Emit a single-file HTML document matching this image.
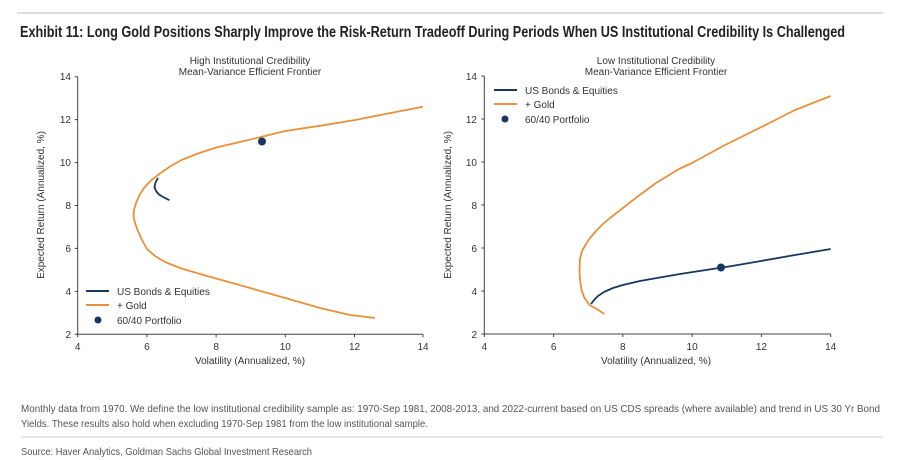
<!DOCTYPE html>
<html><head><meta charset="utf-8"><style>
html,body{margin:0;padding:0;background:#fff;}
svg{display:block;}
.n{font-family:"Liberation Sans Narrow","Liberation Sans",sans-serif;}
.s{font-family:"Liberation Sans",sans-serif;}
</style></head><body>
<svg width="900" height="460" viewBox="0 0 900 460" xmlns="http://www.w3.org/2000/svg">
<line x1="17" y1="13" x2="883" y2="13" stroke="#bbb" stroke-width="1"/>
<text class="n" x="20" y="37" font-size="16" font-weight="bold" fill="#222" textLength="825" lengthAdjust="spacingAndGlyphs">Exhibit 11: Long Gold Positions Sharply Improve the Risk-Return Tradeoff During Periods When US Institutional Credibility Is Challenged</text>

<!-- Left chart -->
<g class="s" font-size="10" fill="#333">
<text x="250" y="64" text-anchor="middle">High Institutional Credibility</text>
<text x="250" y="75" text-anchor="middle">Mean-Variance Efficient Frontier</text>
</g>
<g stroke="#444" stroke-width="1" fill="none">
<path d="M77.7,76.7 V334.3 H423"/>
<path d="M77.7,76.7 h-3 M77.7,119.6 h-3 M77.7,162.6 h-3 M77.7,205.5 h-3 M77.7,248.4 h-3 M77.7,291.4 h-3 M77.7,334.3 h-3"/>
<path d="M77.7,334.3 v3 M146.9,334.3 v3 M216.1,334.3 v3 M285.3,334.3 v3 M354.5,334.3 v3 M423,334.3 v3"/>
</g>
<g class="s" font-size="10" fill="#333" text-anchor="end">
<text x="71" y="80">14</text><text x="71" y="123">12</text><text x="71" y="166">10</text>
<text x="71" y="209">8</text><text x="71" y="252">6</text><text x="71" y="295">4</text><text x="71" y="338">2</text>
</g>
<g class="s" font-size="10" fill="#333" text-anchor="middle">
<text x="77.7" y="350">4</text><text x="146.9" y="350">6</text><text x="216.1" y="350">8</text>
<text x="285.3" y="350">10</text><text x="354.5" y="350">12</text><text x="423" y="350">14</text>
<text x="250" y="364">Volatility (Annualized, %)</text>
<text transform="translate(44,205) rotate(-90)">Expected Return (Annualized, %)</text>
</g>
<polyline fill="none" stroke="#e8913a" stroke-width="1.8" stroke-linejoin="round"
points="423,106.8 388,113.5 354.5,120.1 320,125.8 285.3,131 262.8,136.5 240,142 216.1,147.5 198,153.5 181.5,160 170,166.5 160,173.5 150.4,181 144,188 139.5,195 136,203 134,210 133.5,216 135,223 138,231 142,240 147,249 155,256 165,262 181.5,268.5 200,274 216.1,278.5 250,288 285.3,298 320,308 350,315 375,318"/>
<polyline fill="none" stroke="#17375e" stroke-width="1.8" points="158,178 155.5,182.5 154.5,187 156,191 159,194.5 164,197.5 169.4,200.2"/>
<circle cx="262" cy="141.5" r="4" fill="#17375e"/>
<g class="s" font-size="10" fill="#333">
<line x1="86" y1="291" x2="109" y2="291" stroke="#17375e" stroke-width="2"/>
<text x="117" y="295">US Bonds &amp; Equities</text>
<line x1="86" y1="305" x2="109" y2="305" stroke="#e8913a" stroke-width="2"/>
<text x="117" y="309">+ Gold</text>
<circle cx="98" cy="320" r="3.5" fill="#17375e"/>
<text x="117" y="324">60/40 Portfolio</text>
</g>

<!-- Right chart -->
<g class="s" font-size="10" fill="#333">
<text x="656" y="64" text-anchor="middle">Low Institutional Credibility</text>
<text x="656" y="75" text-anchor="middle">Mean-Variance Efficient Frontier</text>
</g>
<g stroke="#444" stroke-width="1" fill="none">
<path d="M484.3,76 V334 H830.7"/>
<path d="M484.3,76 h-3 M484.3,119 h-3 M484.3,162 h-3 M484.3,205 h-3 M484.3,248 h-3 M484.3,291 h-3 M484.3,334 h-3"/>
<path d="M484.3,334 v3 M553.6,334 v3 M622.8,334 v3 M692.1,334 v3 M761.4,334 v3 M830.7,334 v3"/>
</g>
<g class="s" font-size="10" fill="#333" text-anchor="end">
<text x="477" y="80">14</text><text x="477" y="123">12</text><text x="477" y="166">10</text>
<text x="477" y="209">8</text><text x="477" y="252">6</text><text x="477" y="295">4</text><text x="477" y="338">2</text>
</g>
<g class="s" font-size="10" fill="#333" text-anchor="middle">
<text x="484.3" y="350">4</text><text x="553.6" y="350">6</text><text x="622.8" y="350">8</text>
<text x="692.1" y="350">10</text><text x="761.4" y="350">12</text><text x="830.7" y="350">14</text>
<text x="656" y="364">Volatility (Annualized, %)</text>
<text transform="translate(451,205) rotate(-90)">Expected Return (Annualized, %)</text>
</g>
<polyline fill="none" stroke="#e8913a" stroke-width="1.8" stroke-linejoin="round"
points="604.3,314 597,309 589.5,305 584.5,298 581.5,290 580,280 579.5,270 580,259 582,251 586,244 590,238 596,231 603,224 610,218 621,209.5 637,197 656,183 679,169 692,163 725,145 761.4,127 795,110 830.7,96"/>
<polyline fill="none" stroke="#17375e" stroke-width="1.8" stroke-linejoin="round"
points="591,304 594,300 598,296 604,292 613,288 622.8,285 640,281 657,278 680,274 706,270 732,266 761,261 795,255 830.7,249"/>
<circle cx="721" cy="267.5" r="4" fill="#17375e"/>
<g class="s" font-size="10" fill="#333">
<line x1="494" y1="90" x2="517" y2="90" stroke="#17375e" stroke-width="2"/>
<text x="525" y="94">US Bonds &amp; Equities</text>
<line x1="494" y1="104" x2="517" y2="104" stroke="#e8913a" stroke-width="2"/>
<text x="525" y="108">+ Gold</text>
<circle cx="505" cy="119" r="3.5" fill="#17375e"/>
<text x="525" y="123">60/40 Portfolio</text>
</g>

<!-- Footnotes -->
<g class="n" font-size="10.5" fill="#555">
<text x="21" y="412" textLength="859" lengthAdjust="spacingAndGlyphs">Monthly data from 1970. We define the low institutional credibility sample as: 1970-Sep 1981, 2008-2013, and 2022-current based on US CDS spreads (where available) and trend in US 30 Yr Bond</text>
<text x="21" y="427" textLength="407" lengthAdjust="spacingAndGlyphs">Yields. These results also hold when excluding 1970-Sep 1981 from the low institutional sample.</text>
<line x1="21" y1="437" x2="883" y2="437" stroke="#ccc" stroke-width="1"/>
<text x="21" y="455" textLength="291" lengthAdjust="spacingAndGlyphs">Source: Haver Analytics, Goldman Sachs Global Investment Research</text>
</g>
</svg>
</body></html>
